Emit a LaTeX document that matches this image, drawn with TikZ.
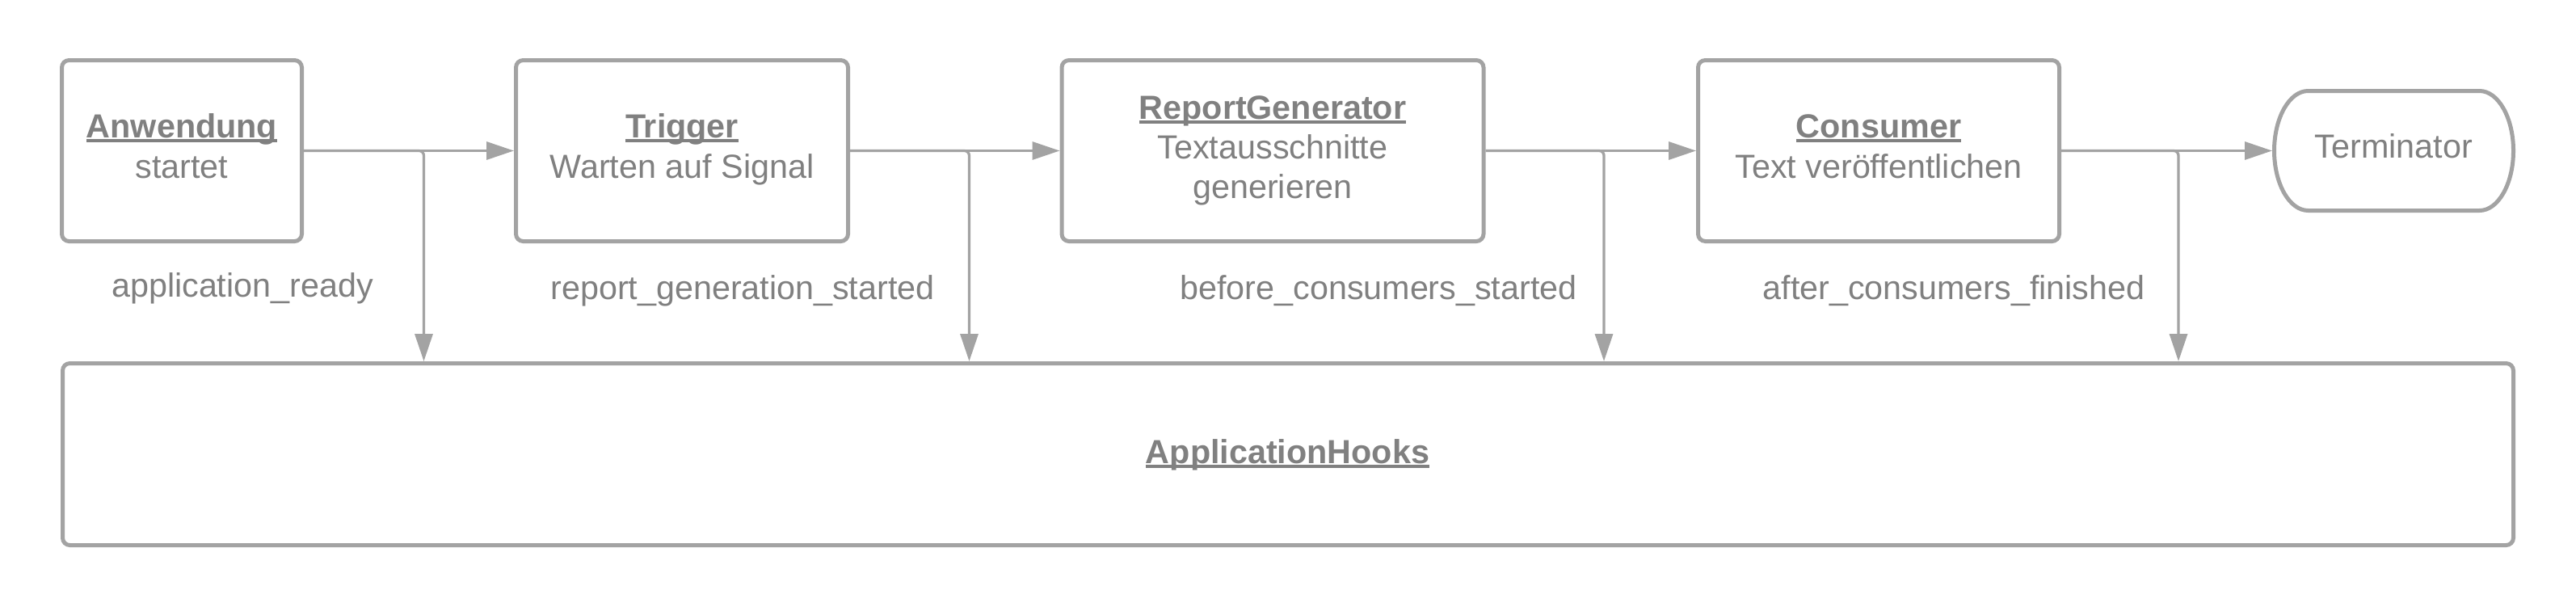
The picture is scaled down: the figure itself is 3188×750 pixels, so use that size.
\documentclass[tikz,border=0pt]{standalone}
\usepackage{fontspec}
\setmainfont{Liberation Sans}
\usetikzlibrary{arrows.meta}
\definecolor{strk}{RGB}{163,163,163}
\definecolor{txt}{RGB}{128,128,128}
\newcommand\myul[1]{\setbox0\hbox{#1}\rlap{\rule[-5.6pt]{\wd0}{3.2pt}}\box0}
\begin{document}
\begin{tikzpicture}[x=1pt,y=1pt,
 box/.style={draw=strk, line width=5pt, rounded corners=9pt, inner sep=0pt, fill=white},
 conn/.style={draw=strk, line width=3.3pt},
 arr/.style={conn, -{Triangle[length=34pt,width=22pt]}},
 t/.style={text=txt, font=\fontsize{41.3}{49.5}\selectfont, anchor=base, inner sep=0pt},
 tb/.style={text=txt, font=\fontsize{41.3}{49.5}\selectfont\bfseries, anchor=base, inner sep=0pt}]
\fill[white] (0,0) rectangle (3188,-750);
\useasboundingbox (0,0) rectangle (3188,-750);

% boxes
\node[box, minimum width=297pt, minimum height=224pt] (app) at (225,-186.5) {};
\node[box, minimum width=411pt, minimum height=224pt] (trig) at (844,-186.5) {};
\node[box, minimum width=522pt, minimum height=224pt] (rep) at (1575,-186.5) {};
\node[box, minimum width=447pt, minimum height=224pt] (cons) at (2325,-186.5) {};
\node[box, minimum width=3033pt, minimum height=225pt] (hooks) at (1594,-562) {};
\node[inner sep=0pt, outer sep=0pt, minimum width=296pt, minimum height=148pt] (term) at (2962.5,-186.5) {};
\draw[strk, line width=5pt, fill=white] ([xshift=42pt]term.north west) -- ([xshift=-42pt]term.north east)
  arc[start angle=90, end angle=-90, x radius=42pt, y radius=74pt]
  -- ([xshift=42pt]term.south west)
  arc[start angle=270, end angle=90, x radius=42pt, y radius=74pt] -- cycle;

% junction coordinates
\coordinate (j1) at (524.5,-186.5);
\coordinate (j2) at (1199.5,-186.5);
\coordinate (j3) at (1985,-186.5);
\coordinate (j4) at (2696,-186.5);

% connectors
\draw[arr, rounded corners=6pt] (app.east) -| (j1 |- hooks.north);
\draw[arr, rounded corners=6pt] (trig.east) -| (j2 |- hooks.north);
\draw[arr, rounded corners=6pt] (rep.east) -| (j3 |- hooks.north);
\draw[arr, rounded corners=6pt] (cons.east) -| (j4 |- hooks.north);
\draw[arr] (app.east) -- (trig.west);
\draw[arr] (trig.east) -- (rep.west);
\draw[arr] (rep.east) -- (cons.west);
\draw[arr] (cons.east) -- ([xshift=-2.5pt]term.west);

% texts
\node[tb] (appT) at (225,-170) {\myul{Anwendung}};
\node[t] (appS) at (225,-220) {startet};
\node[tb] (trigT) at (844,-170) {\myul{Trigger}};
\node[t] (trigS) at (844,-220) {Warten auf Signal};
\node[tb] (repT) at (1575,-147) {\myul{ReportGenerator}};
\node[t] (repS1) at (1575,-196.7) {Textausschnitte};
\node[t] (repS2) at (1575,-245) {generieren};
\node[tb] (consT) at (2325,-170) {\myul{Consumer}};
\node[t] (consS) at (2325,-220) {Text veröffentlichen};
\node[t] (termT) at (2962.5,-195) {Terminator};
\node[tb] (hooksT) at (1593.5,-573) {\myul{ApplicationHooks}};

% labels
\node[t] (l1) at (300,-367) {application\_ready};
\node[t] (l2) at (919,-370) {report\_generation\_started};
\node[t] (l3) at (1706,-370) {before\_consumers\_started};
\node[t] (l4) at (2418,-370) {after\_consumers\_finished};
\end{tikzpicture}
\end{document}
